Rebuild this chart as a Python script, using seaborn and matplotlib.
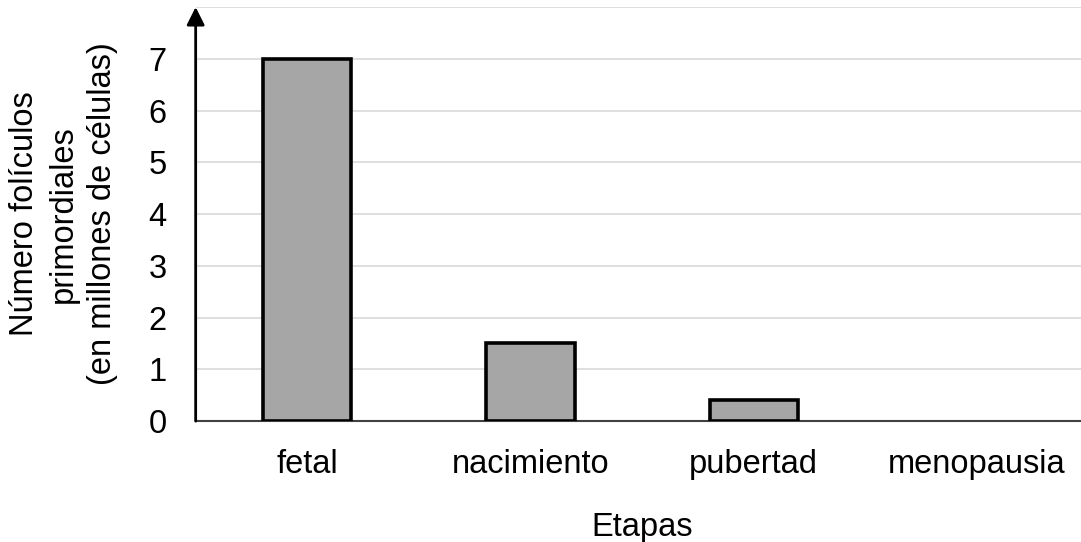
import matplotlib
matplotlib.use("Agg")
import matplotlib.pyplot as plt
import seaborn as sns
import pandas as pd

etapas = ["fetal", "nacimiento", "pubertad", "menopausia"]
valores = [7.0, 1.5, 0.4, 0.0]
yticks = [0, 1, 2, 3, 4, 5, 6, 7]

sns.set_theme(style="white")
plt.rcParams['font.family'] = ['Liberation Sans', 'DejaVu Sans']
plt.rcParams['text.color'] = 'black'
plt.rcParams['axes.labelcolor'] = 'black'

df = pd.DataFrame({"Etapas": etapas, "valor": valores})

fig = plt.figure(figsize=(10.81, 5.42), dpi=100)
ax = fig.add_axes([0.181, 0.223, 0.826, 0.764])

sns.barplot(data=df, x="Etapas", y="valor", color="#a6a6a6", edgecolor="black",
            linewidth=2.6, width=0.395, saturation=1, ax=ax, zorder=3)

for p in ax.patches:
    if p.get_height() == 0:
        p.set_edgecolor("none")
        p.set_facecolor("none")

ax.set_ylim(0, 8)
ax.set_xlim(-0.5, 3.5)
ax.set_yticks(list(range(0, 9)))
ax.set_yticklabels([str(v) for v in yticks] + [""])
ax.yaxis.grid(True, color="#d9d9d9", linewidth=1.2, zorder=0)
ax.set_axisbelow(True)
fs = 23.5
ax.tick_params(axis="both", length=0, labelsize=fs, colors="black")
ax.tick_params(axis="x", pad=20)
ax.tick_params(axis="y", pad=21)

for s in ["top", "right"]:
    ax.spines[s].set_visible(False)
ax.spines["bottom"].set_color("#404040")
ax.spines["bottom"].set_linewidth(1.5)
ax.spines["left"].set_visible(False)

# y-axis with arrow
ax.annotate("", xy=(0, 1.0), xycoords="axes fraction", xytext=(0, 0),
            textcoords="axes fraction",
            arrowprops=dict(arrowstyle="-|>,head_length=0.9,head_width=0.45",
                            color="black", lw=2.0, shrinkA=0, shrinkB=0),
            annotation_clip=False, zorder=5)

ax.set_xlabel("Etapas", fontsize=fs, labelpad=23)
ax.set_ylabel("Número folículos\nprimordiales\n(en millones de células)", fontsize=fs,
              labelpad=22, linespacing=1.33)

fig.savefig("out.png", dpi=100)
